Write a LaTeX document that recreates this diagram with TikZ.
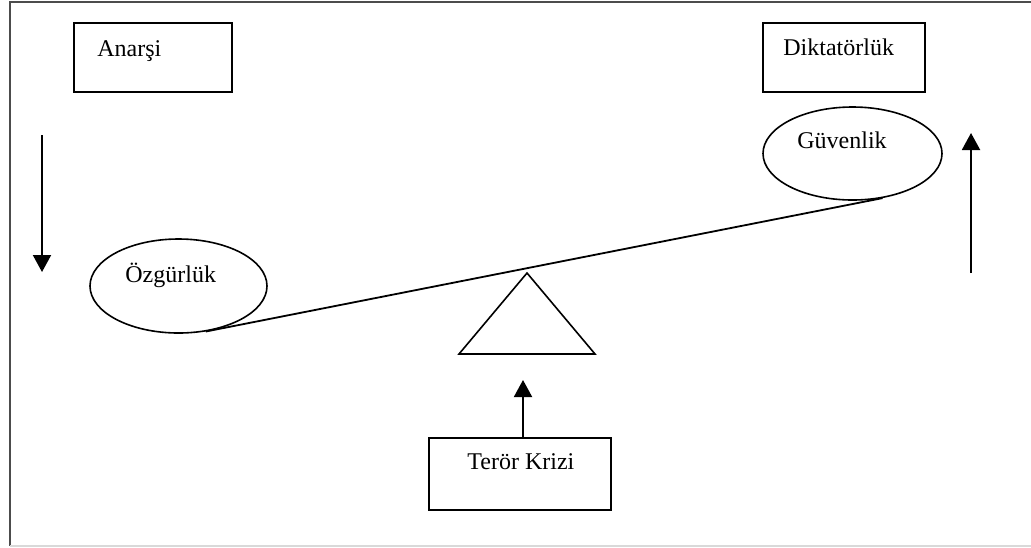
\documentclass[tikz,border=0pt]{standalone}
\usepackage{fontspec}
\setmainfont{Liberation Serif}
\usepackage{tikz}
\usetikzlibrary{shapes.geometric,arrows.meta}

\begin{document}
\begin{tikzpicture}[x=0.5pt,y=-0.5pt,
        box/.style={draw, line width=0.8pt, rectangle},
        oval/.style={draw, line width=0.8pt, ellipse},
        txt/.style={anchor=base west, inner sep=0pt, font=\fontsize{12}{14}\selectfont},
        push/.style={-{Triangle[width=9pt,length=8.5pt]}, line width=1pt}]
        \useasboundingbox (0,0) rectangle (1031,547);

        % frame
        \draw[line width=1pt, black!70] (1031,2) -- (9.5,2) -- (9.5,546);
        \draw[line width=0.8pt, black!15] (9.5,546) -- (1031,546);

        % boxes and ellipses
        \node[box, minimum width=79pt, minimum height=34.5pt] (anarsi) at (153,57.5) {};
        \node[box, minimum width=81pt, minimum height=34.5pt] (diktator) at (844,57.5) {};
        \node[oval, minimum width=89.5pt, minimum height=46.5pt] (guvenlik) at (852.5,153.5) {};
        \node[oval, minimum width=88.5pt, minimum height=47pt] (ozgurluk) at (178.5,286) {};
        \node[box, minimum width=91pt, minimum height=36pt] (teror) at (520,474) {};

        \node[txt] at (97,56) {Anarşi};
        \node[txt] at (783,55) {Diktatörlük};
        \node[txt] at (797,148) {Güvenlik};
        \node[txt] at (125,282) {Özgürlük};
        \node[txt] at (467,469) {Terör Krizi};

        % seesaw
        \coordinate (T) at (527,273);
        \coordinate (L) at (459,354);
        \coordinate (R) at (595,354);
        \draw[line width=0.8pt] (T) -- (L) -- (R) -- cycle;
        \draw[line width=0.9pt] (ozgurluk.-59) -- (guvenlik.-56);

        % arrows
        \coordinate (downtop) at (42,135);
        \coordinate (downtip) at (42,272);
        \coordinate (uplow) at (971,273);
        \coordinate (uptip) at (971,133);
        \coordinate (lift) at (523,380);
        \draw[push] (downtop) -- (downtip);
        \draw[push] (uplow) -- (uptip);
        \draw[push] (teror.north -| lift) -- (lift);
    \end{tikzpicture}
\end{document}
